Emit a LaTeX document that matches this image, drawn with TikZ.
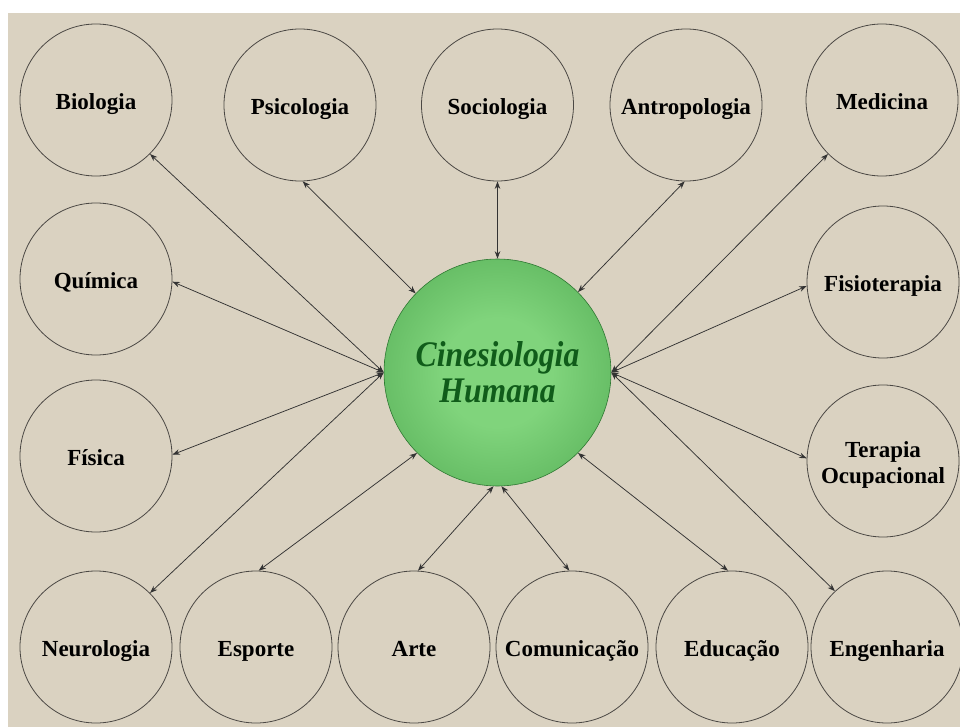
\documentclass[tikz,border=0pt]{standalone}
\usepackage{fontspec}
\setmainfont{Liberation Serif}
\newfontfamily\centerfont[FakeStretch=0.88]{Liberation Serif}
\usetikzlibrary{arrows.meta}
\definecolor{bgbeige}{RGB}{218,210,193}
\definecolor{edgegray}{RGB}{75,72,68}
\definecolor{gl}{RGB}{128,212,124}
\definecolor{gd}{RGB}{58,150,62}
\definecolor{gtext}{RGB}{16,92,26}
\pgfdeclareradialshading{ballg}{\pgfpoint{0bp}{0bp}}{color(0bp)=(gl); color(12bp)=(gl); color(50bp)=(gd); color(70bp)=(gd)}
\tikzset{
  lbl/.style={align=center, font=\bfseries\fontsize{23}{26}\selectfont, text=black,
    inner sep=0pt, yshift=-4.5pt},
  disc/.style={circle, draw=edgegray, line width=0.8pt, minimum size=152pt, inner sep=0pt,
    label={[lbl]center:{#1\vphantom{g}}}},
  hub/.style={circle, draw=gd!80!black, line width=0.6pt, minimum size=227pt, inner sep=0pt,
    shading=ballg, align=center, text=gtext,
    font=\centerfont\bfseries\itshape\fontsize{36}{36}\selectfont},
  conn/.style={{Stealth[length=7.5pt,width=5.5pt]}-{Stealth[length=7.5pt,width=5.5pt]},
    draw=black!80, line width=0.75pt}
}
\begin{document}
\begin{tikzpicture}[x=1pt,y=-1pt]
\useasboundingbox (0,0) rectangle (960,727);
\fill[white] (0,0) rectangle (960,727);
\fill[bgbeige] (8,13) rectangle (960,727);

\node[hub] (c) at (497.5,372.5) {Cinesiologia\\Humana};

\node[disc={Biologia}] (bio) at (96,100) {};
\node[disc={Psicologia}] (psi) at (300,105) {};
\node[disc={Sociologia}] (soc) at (497.5,105) {};
\node[disc={Antropologia}] (ant) at (686,105) {};
\node[disc={Medicina}] (med) at (882,100) {};

\node[disc={Química}] (qui) at (96,279) {};
\node[disc={Física}] (fis) at (96,456) {};
\node[disc={Fisioterapia}] (fst) at (883,282) {};
\node[disc={Terapia\\Ocupacional}] (ter) at (883,461) {};

\node[disc={Neurologia}] (neu) at (96,647) {};
\node[disc={Esporte}] (esp) at (256,647) {};
\node[disc={Arte}] (art) at (414,647) {};
\node[disc={Comunicação}] (com) at (572,647) {};
\node[disc={Educação}] (edu) at (732,647) {};
\node[disc={Engenharia}] (eng) at (887,647) {};

\draw[conn] (bio.-45) -- (c.west);
\draw[conn] (qui.-2) -- (c.west);
\draw[conn] (fis.1) -- (c.west);
\draw[conn] (neu.45) -- (c.west);

\draw[conn] (psi.-88) -- (c.136);
\draw[conn] (soc.south) -- (c.north);
\draw[conn] (ant.-91) -- (c.45);

\draw[conn] (med.225) -- (c.east);
\draw[conn] (fst.183) -- (c.east);
\draw[conn] (ter.178) -- (c.east);
\draw[conn] (eng.133) -- (c.east);

\draw[conn] (esp.88) -- (c.225);
\draw[conn] (art.87) -- (c.268);
\draw[conn] (com.92) -- (c.272);
\draw[conn] (edu.93) -- (c.315);
\end{tikzpicture}
\end{document}
